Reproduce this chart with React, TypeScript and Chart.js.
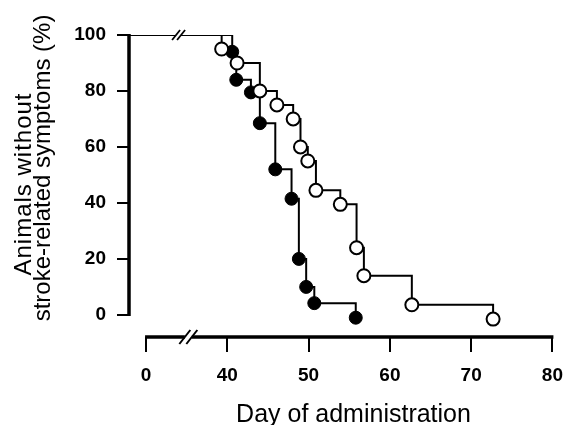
import { useEffect, useRef } from 'react';
import { Chart, registerables } from 'chart.js';

Chart.register(...registerables);

// ---- data ----
const axisStartDay = 27.9; // where the y axis sits on the broken day axis
const xTickValues = [30, 40, 50, 60, 70, 80];
const xTickLabels = ['0', '40', '50', '60', '70', '80'];
const yTickValues = [0, 20, 40, 60, 80, 100];
const breakOnCurveDay = 34;
const breakOnAxisDay = 35.2;

const openDays = [39.3, 41.2, 44.0, 46.1, 48.1, 49.0, 49.9, 50.9, 53.9, 55.9, 56.8, 62.7, 72.7];
const openPct = [95, 90, 80, 75, 70, 60, 55, 44.5, 39.5, 24, 14, 3.6, -1.5];
const filledDays = [40.6, 41.1, 42.9, 44.0, 45.9, 47.9, 48.8, 49.7, 50.7, 55.8];
const filledPct = [94, 84, 79.5, 68.5, 52, 41.5, 20, 10, 4.2, -1];

const xTitle = 'Day of administration';
const yTitleLines = ['Animals without', 'stroke-related symptoms (%)'];

const FONT = '"Liberation Sans", Arial, Helvetica, sans-serif';

function toPoints(days: number[], pct: number[]) {
  return days.map((d, i) => ({ x: d, y: pct[i] }));
}

function drawBreak(ctx: CanvasRenderingContext2D, cx: number, cy: number, a: number, b: number, d: number, lw: number) {
  ctx.save();
  ctx.fillStyle = '#fff';
  ctx.fillRect(cx - d / 2, cy - 2.5, d, 5);
  ctx.strokeStyle = '#000';
  ctx.lineWidth = lw;
  for (const s of [-d / 2, d / 2]) {
    ctx.beginPath();
    ctx.moveTo(cx + s - a, cy + b);
    ctx.lineTo(cx + s + a, cy - b);
    ctx.stroke();
  }
  ctx.restore();
}

const axesPlugin = {
  id: 'axesAndTitles',
  afterDraw(chart: any) {
    const { ctx, chartArea, scales } = chart;
    const x = scales.x;
    const y = scales.y;
    ctx.save();
    ctx.strokeStyle = '#000';
    ctx.lineWidth = 3.5;
    ctx.beginPath();
    ctx.moveTo(chartArea.left, y.getPixelForValue(0) + 1);
    ctx.lineTo(chartArea.left, y.getPixelForValue(100) - 1);
    ctx.stroke();
    ctx.beginPath();
    ctx.moveTo(x.getPixelForValue(xTickValues[0]) - 1, chartArea.bottom);
    ctx.lineTo(x.getPixelForValue(xTickValues[xTickValues.length - 1]) + 1, chartArea.bottom);
    ctx.stroke();
    ctx.restore();

    drawBreak(ctx, x.getPixelForValue(breakOnCurveDay), y.getPixelForValue(100), 4, 5, 5, 1.8);
    drawBreak(ctx, x.getPixelForValue(breakOnAxisDay), chartArea.bottom, 5.5, 7, 7, 2);

    ctx.save();
    ctx.fillStyle = '#000';
    ctx.font = `25px ${FONT}`;
    ctx.textAlign = 'center';
    ctx.textBaseline = 'alphabetic';
    ctx.fillText(xTitle, 353.5, 422);

    ctx.font = `24px ${FONT}`;
    const lines = [
      { text: yTitleLines[0], bx: 31, cy: 184, spacing: '1px' },
      { text: yTitleLines[1], bx: 50, cy: 168, spacing: '0px' },
    ];
    for (const l of lines) {
      ctx.save();
      (ctx as any).letterSpacing = l.spacing;
      ctx.translate(l.bx, l.cy);
      ctx.rotate(-Math.PI / 2);
      ctx.fillText(l.text, 0, 0);
      ctx.restore();
    }
    ctx.restore();
  },
};

export default function App() {
  const canvasRef = useRef<HTMLCanvasElement | null>(null);

  useEffect(() => {
    if (!canvasRef.current) return;
    const chart = new Chart(canvasRef.current, {
      type: 'line',
      data: {
        datasets: [
          {
            label: 'open points',
            data: toPoints(openDays, openPct),
            showLine: false,
            pointRadius: 6.5,
            pointBorderWidth: 2,
            pointBackgroundColor: '#fff',
            pointBorderColor: '#000',
            clip: false,
          } as any,
          {
            label: 'filled points',
            data: toPoints(filledDays, filledPct),
            showLine: false,
            pointRadius: 6.5,
            pointBorderWidth: 1,
            pointBackgroundColor: '#000',
            pointBorderColor: '#000',
            clip: false,
          } as any,
          {
            label: 'open curve',
            data: [{ x: axisStartDay, y: 100 }, ...toPoints(openDays, openPct)],
            stepped: 'before',
            borderColor: '#000',
            borderWidth: 2,
            pointRadius: 0,
            fill: false,
          } as any,
          {
            label: 'filled curve',
            data: [{ x: axisStartDay, y: 100 }, ...toPoints(filledDays, filledPct)],
            stepped: 'before',
            borderColor: '#000',
            borderWidth: 2,
            pointRadius: 0,
            fill: false,
          } as any,
        ],
      },
      options: {
        responsive: false,
        animation: false,
        layout: { padding: { top: 35, right: 11, left: 0, bottom: 0 } },
        plugins: { legend: { display: false }, tooltip: { enabled: false } },
        scales: {
          x: {
            type: 'linear',
            min: axisStartDay,
            max: 80,
            afterBuildTicks: (s: any) => {
              s.ticks = xTickValues.map((v) => ({ value: v }));
            },
            afterFit: (s: any) => {
              s.height = 88;
            },
            ticks: {
              autoSkip: false,
              maxRotation: 0,
              padding: 12,
              color: '#000',
              font: { family: FONT, size: 19, weight: 'bold' },
              callback: (v: any) => {
                const i = xTickValues.indexOf(Number(v));
                return i >= 0 ? xTickLabels[i] : '';
              },
            },
            grid: { drawOnChartArea: false, drawTicks: true, tickLength: 15, color: '#000', lineWidth: 2 },
            border: { display: false },
          },
          y: {
            type: 'linear',
            min: -7.9,
            max: 100,
            afterBuildTicks: (s: any) => {
              s.ticks = yTickValues.map((v) => ({ value: v }));
            },
            afterFit: (s: any) => {
              s.width = 129;
            },
            ticks: {
              padding: 11,
              color: '#000',
              font: { family: FONT, size: 19, weight: 'bold' },
              callback: (v: any) => String(v),
            },
            grid: { drawOnChartArea: false, drawTicks: true, tickLength: 12, color: '#000', lineWidth: 2 },
            border: { display: false },
          },
        },
      },
      plugins: [axesPlugin],
    });
    return () => chart.destroy();
  }, []);

  return (
    <div style={{ position: 'absolute', left: 0, top: 0, width: 575, height: 425, background: '#fff' }}>
      <canvas ref={canvasRef} width={575} height={425} />
    </div>
  );
}
